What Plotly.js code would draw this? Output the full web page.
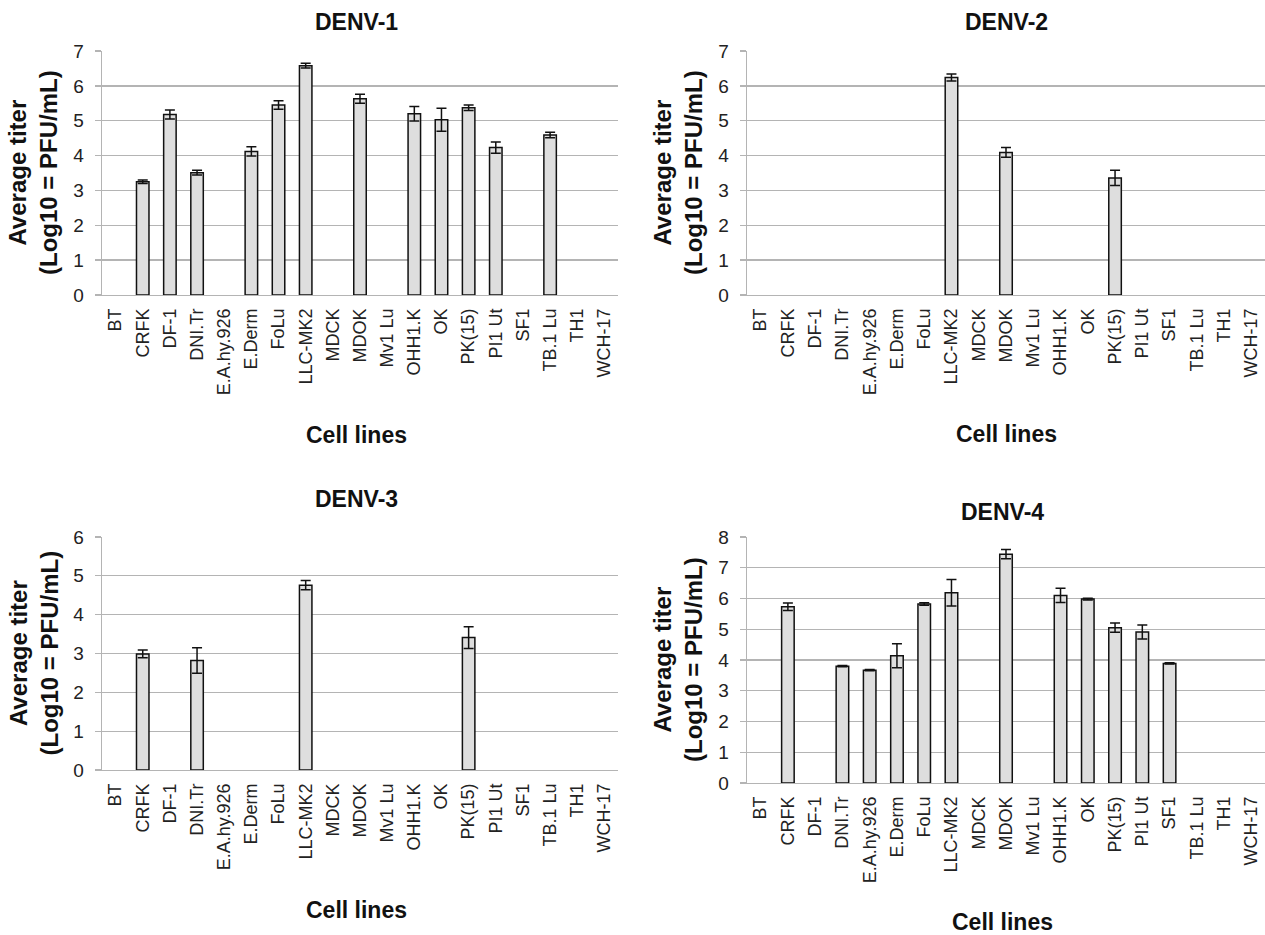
<!DOCTYPE html>
<html>
<head>
<meta charset="utf-8">
<script src="https://cdn.plot.ly/plotly-3.0.1.min.js"></script>
<style>html,body{margin:0;padding:0;background:#fff;}#chart{width:1265px;height:935px;}</style>
</head>
<body>
<div id="chart"></div>
<script>
// ---- data ----
const cellLines = ["BT","CRFK","DF-1","DNI.Tr","E.A.hy.926","E.Derm","FoLu","LLC-MK2","MDCK","MDOK","Mv1 Lu","OHH1.K","OK","PK(15)","PI1 Ut","SF1","TB.1 Lu","TH1","WCH-17"];

const denv1Titer = [null,3.25,5.18,3.51,null,4.12,5.45,6.58,null,5.63,null,5.20,5.03,5.37,4.23,null,4.59,null,null];
const denv1Err   = [null,0.05,0.13,0.07,null,0.13,0.12,0.07,null,0.13,null,0.21,0.33,0.08,0.16,null,0.08,null,null];

const denv2Titer = [null,null,null,null,null,null,null,6.24,null,4.09,null,null,null,3.36,null,null,null,null,null];
const denv2Err   = [null,null,null,null,null,null,null,0.10,null,0.14,null,null,null,0.22,null,null,null,null,null];

const denv3Titer = [null,2.99,null,2.82,null,null,null,4.76,null,null,null,null,null,3.41,null,null,null,null,null];
const denv3Err   = [null,0.10,null,0.33,null,null,null,0.12,null,null,null,null,null,0.28,null,null,null,null,null];

const denv4Titer = [null,5.73,null,3.80,3.67,4.14,5.82,6.19,null,7.44,null,6.10,5.98,5.05,4.91,3.89,null,null,null];
const denv4Err   = [null,0.12,null,0.02,0.02,0.39,0.04,0.43,null,0.15,null,0.23,0.03,0.15,0.23,0.02,null,null,null];

const panelTitles = ["DENV-1","DENV-2","DENV-3","DENV-4"];
const yMax = [7,7,6,8];
const xTitle = "Cell lines";
const yTitle = "Average titer<br>(Log10 = PFU/mL)";

// ---- layout geometry (pixels) ----
const W = 1265, H = 935;
const boxes = [
  {l:102, r:618,  t:51,  b:295, titleY:22,  xtY:435},
  {l:747, r:1265, t:51,  b:295, titleY:22,  xtY:434},
  {l:102, r:618,  t:537, b:770, titleY:499, xtY:910},
  {l:747, r:1265, t:537, b:783, titleY:512, xtY:922}
];
const ytX = [33, 678, 33, 678];
const titleDX = [-4, 0, -4, -4];

const series = [[denv1Titer,denv1Err],[denv2Titer,denv2Err],[denv3Titer,denv3Err],[denv4Titer,denv4Err]];
const FONT = "Liberation Sans, Arial, sans-serif";
const GRID = "#b4b4b4";

const traces = [];
const layout = {
  width: W, height: H,
  margin: {l:0, r:0, t:0, b:0},
  paper_bgcolor: "#ffffff",
  plot_bgcolor: "#ffffff",
  showlegend: false,
  bargap: 0.54,
  font: {family: FONT, color: "#222"},
  annotations: []
};

series.forEach((s, i) => {
  const n = i === 0 ? "" : String(i + 1);
  traces.push({
    type: "bar",
    x: cellLines,
    y: s[0],
    xaxis: "x" + n,
    yaxis: "y" + n,
    marker: {color: "#dedede", line: {color: "#111", width: 1.5}},
    error_y: {type: "data", array: s[1], visible: true, color: "#111", thickness: 1.5, width: 5},
    hoverinfo: "x+y"
  });
  const b = boxes[i];
  layout["xaxis" + n] = {
    domain: [b.l / W, b.r / W],
    anchor: "y" + n,
    type: "category",
    categoryorder: "array",
    categoryarray: cellLines,
    range: [-0.5, cellLines.length - 0.5],
    tickangle: -90,
    ticks: "",
    ticklabelstandoff: 5,
    showline: true, linecolor: GRID, linewidth: 1.3,
    showgrid: false, zeroline: false,
    tickfont: {family: FONT, size: 18, color: "#222"},
    fixedrange: true
  };
  layout["yaxis" + n] = {
    domain: [1 - b.b / H, 1 - b.t / H],
    anchor: "x" + n,
    range: [0, yMax[i]],
    dtick: 1,
    tick0: 0,
    ticks: "outside", ticklen: 6, tickcolor: GRID, tickwidth: 1.3,
    ticklabelstandoff: 7,
    showline: true, linecolor: GRID, linewidth: 1.3,
    showgrid: true, gridcolor: GRID, gridwidth: 1.3,
    zeroline: false,
    tickfont: {family: FONT, size: 19, color: "#222"},
    fixedrange: true
  };
  const cx = ((b.l + b.r) / 2 + titleDX[i]) / W;
  layout.annotations.push({
    text: "<b>" + panelTitles[i] + "</b>", xref: "paper", yref: "paper",
    x: cx, y: 1 - b.titleY / H, xanchor: "center", yanchor: "middle",
    showarrow: false, font: {family: FONT, size: 23, color: "#111"}
  });
  layout.annotations.push({
    text: "<b>" + xTitle + "</b>", xref: "paper", yref: "paper",
    x: cx, y: 1 - b.xtY / H, xanchor: "center", yanchor: "middle",
    showarrow: false, font: {family: FONT, size: 23, color: "#111"}
  });
  layout.annotations.push({
    text: "<b>" + yTitle + "</b>", xref: "paper", yref: "paper",
    x: ytX[i] / W, y: 1 - (b.t + b.b) / 2 / H, xanchor: "center", yanchor: "middle",
    textangle: -90, showarrow: false,
    font: {family: FONT, size: 24, color: "#111"}
  });
});

Plotly.newPlot("chart", traces, layout, {displayModeBar: false, staticPlot: true});
</script>
</body>
</html>
